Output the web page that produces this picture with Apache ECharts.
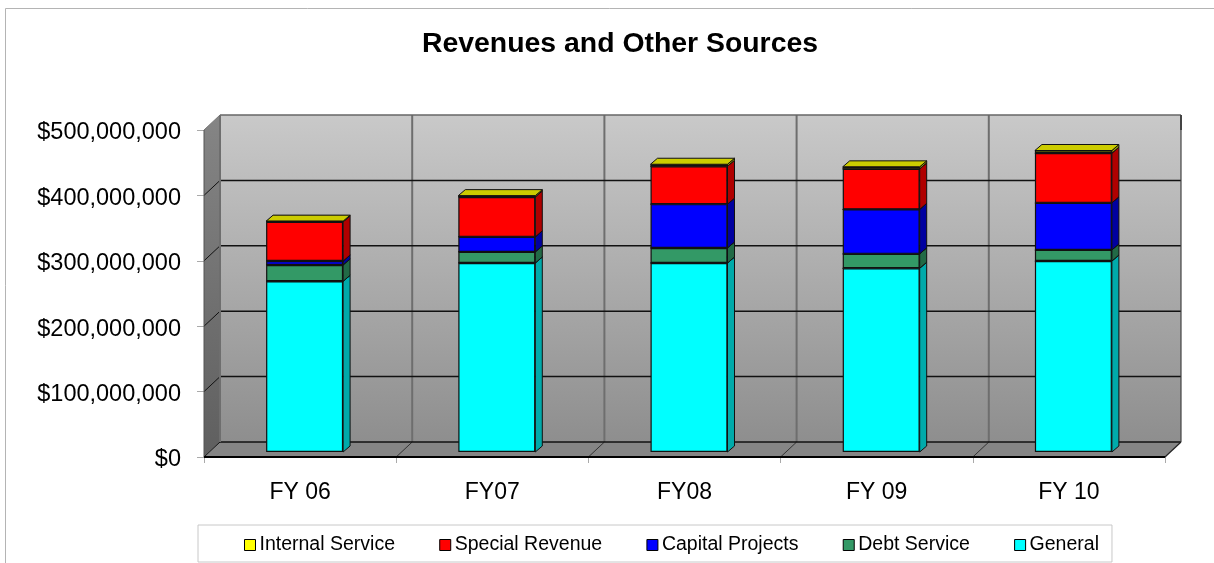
<!DOCTYPE html>
<html><head><meta charset="utf-8">
<style>html,body{margin:0;padding:0;background:#fff}#c{width:1214px;height:563px}</style>
<script src="https://cdn.jsdelivr.net/npm/echarts@6/dist/echarts.min.js"></script>
</head><body><div id="c"></div>
<script>
const categories = ['FY 06','FY07','FY08','FY 09','FY 10'];
const general  = [261, 289, 289, 281, 292];
const debt     = [25, 17, 23, 22, 17];
const capital  = [6, 23, 67, 68, 72];
const special  = [60, 61, 58, 62, 76];
const internal = [1, 2, 3, 3, 4];
const yTicks = [0,100,200,300,400,500];
const M = 1000000;

const seriesDefs = [
  {name:'General', values:general, front:'#00ffff', side:'#00aaaa', top:'#00cccc'},
  {name:'Debt Service', values:debt, front:'#339966', side:'#226a46', top:'#2a8055'},
  {name:'Capital Projects', values:capital, front:'#0000ff', side:'#0000a0', top:'#0000cc'},
  {name:'Special Revenue', values:special, front:'#ff0000', side:'#b00000', top:'#cc0000'},
  {name:'Internal Service', values:internal, front:'#ffff00', side:'#a8a800', top:'#cccc00'}
];
const legendOrder = ['Internal Service','Special Revenue','Capital Projects','Debt Service','General'];

const DX=16, DY=-15;      // wall depth
const BX=4.5, BY=-5;      // bar inset from the front plane
const SX=7, SY=-6;        // bar depth
const BAR=77;
const FONT='"Liberation Sans", Arial, sans-serif';
const L=204, R=1214-1165, T=130, B=563-457;

function poly(pts, fill, stroke, lw){
  return {type:'polygon', shape:{points:pts}, style:{fill:fill, stroke:stroke||null, lineWidth:lw||0}};
}
function line(x1,y1,x2,y2,c,w){
  return {type:'line', shape:{x1,y1,x2,y2}, style:{stroke:c, lineWidth:w, fill:null}};
}
function grad(a,b){
  return {type:'linear',x:0,y:0,x2:0,y2:1,colorStops:[{offset:0,color:a},{offset:1,color:b}]};
}

function renderRoom(params, api){
  const c=params.coordSys, x0=c.x, x1=c.x+c.width, y0=c.y, y1=c.y+c.height;
  const band=c.width/categories.length;
  const ch=[];
  ch.push(poly([[x0+DX,y0+DY],[x1+DX,y0+DY],[x1+DX,y1+DY],[x0+DX,y1+DY]],grad('#c9c9c9','#8e8e8e')));
  ch.push(poly([[x0,y0],[x0+DX,y0+DY],[x0+DX,y1+DY],[x0,y1]],grad('#858585','#5f5f5f')));
  ch.push(poly([[x0,y1],[x0+DX,y1+DY],[x1+DX,y1+DY],[x1,y1]],'#858585'));
  for(let i=1;i<categories.length;i++){
    const x=x0+band*i;
    ch.push(line(x+DX,y0+DY,x+DX,y1+DY,'#6e6e6e',2));
    ch.push(line(x,y1,x+DX,y1+DY,'#333333',1));
  }
  yTicks.forEach(v=>{
    const y=api.coord([0,v*M])[1];
    if(v===500){
      ch.push(line(x0+DX,y+DY,x1+DX,y+DY,'#666666',1.5));
      ch.push(line(x0,y,x0+DX,y+DY,'#777777',1));
    } else {
      ch.push(line(x0+DX,y+DY,x1+DX,y+DY,'#111111',1.5));
      ch.push(line(x0,y,x0+DX,y+DY,'#111111',1));
    }
  });
  ch.push(line(x0+DX,y0+DY,x0+DX,y1+DY,'#6e6e6e',2));
  ch.push(line(x1+DX,y0+DY,x1+DX,y1+DY,'#444444',1.2));
  ch.push(line(x1+DX,y0+DY,x1+DX,y0,'#444444',2));
  ch.push(line(x1,y1,x1+DX,y1+DY,'#222222',1.2));
  ch.push(line(x0,y0,x0,y1,'#555555',1));
  ch.push(line(x0,y1,x1,y1,'#000000',2));
  return {type:'group',children:ch};
}

function makeFaces(def, idx){
  const data=categories.map((_,i)=>{
    let base=0;
    for(let k=0;k<idx;k++) base+=seriesDefs[k].values[i];
    return [i, base*M, (base+def.values[i])*M];
  });
  return {
    type:'custom', name:'faces-'+def.name, xAxisIndex:1, yAxisIndex:1, z:3, silent:true,
    clip:false, data:data, tooltip:{show:false},
    renderItem(params, api){
      const i=api.value(0);
      const a=api.coord([i,api.value(1)]), b=api.coord([i,api.value(2)]);
      const xr=a[0]+BAR/2, xl=a[0]-BAR/2;
      const e='#111111';
      return {type:'group',children:[
        poly([[xr,a[1]],[xr+SX,a[1]+SY],[xr+SX,b[1]+SY],[xr,b[1]]],def.side,e,1),
        poly([[xl,b[1]],[xl+SX,b[1]+SY],[xr+SX,b[1]+SY],[xr,b[1]]],def.top,e,1)
      ]};
    }
  };
}

const bars=seriesDefs.map(d=>({
  type:'bar', name:d.name, stack:'total', xAxisIndex:1, yAxisIndex:1, z:4,
  barWidth:BAR, data:d.values.map(v=>v*M),
  itemStyle:{color:d.front, borderColor:'#111111', borderWidth:1.2},
  emphasis:{disabled:true}
}));

const chart=echarts.init(document.getElementById('c'),null,{renderer:'canvas'});
chart.setOption({
  animation:false,
  backgroundColor:'#ffffff',
  title:{text:'Revenues and Other Sources',top:25,
    left:417,
    textStyle:{fontFamily:FONT,fontSize:28.4,fontWeight:'bold',color:'#000'}},
  graphic:[{type:'polyline',silent:true,z:-1,
    shape:{points:[[5.5,563],[5.5,8.5],[1214,8.5]]},
    style:{stroke:'#b4b4b4',lineWidth:1,fill:null}}],
  legend:{
    data:legendOrder, left:198, top:525, orient:'horizontal',
    padding:[10,13,7,46], itemGap:44.25, itemWidth:11, itemHeight:11,
    icon:'rect',
    itemStyle:{borderColor:'#000',borderWidth:1},
    textStyle:{fontFamily:FONT,fontSize:19.5,color:'#000',padding:[0,0,0,-1]},
    backgroundColor:'#fff',borderColor:'#c8c8c8',borderWidth:1,
    selectedMode:false
  },
  grid:[
    {left:L,right:R,top:T,bottom:B},
    {left:L+BX,right:R-BX,top:T+BY,bottom:B-BY}
  ],
  xAxis:[
    {type:'category',data:categories,gridIndex:0,
     axisLine:{show:false},
     axisTick:{show:true,length:6,alignWithLabel:false,lineStyle:{color:'#aaaaaa'}},
     axisLabel:{fontFamily:FONT,fontSize:23,color:'#000',margin:24}},
    {type:'category',data:categories,gridIndex:1,show:false}
  ],
  yAxis:[
    {type:'value',gridIndex:0,min:0,max:500*M,interval:100*M,
     axisLine:{show:false},splitLine:{show:false},
     axisTick:{show:true,length:7,lineStyle:{color:'#aaaaaa'}},
     axisLabel:{fontFamily:FONT,fontSize:23.5,color:'#000',margin:23,verticalAlign:'top',lineHeight:6,
       formatter:v=>'$'+v.toLocaleString('en-US')}},
    {type:'value',gridIndex:1,min:0,max:500*M,show:false,splitLine:{show:false}}
  ],
  series:[
    {type:'custom',name:'room',xAxisIndex:0,yAxisIndex:0,z:1,silent:true,clip:false,
     data:[[0,0]],renderItem:renderRoom,tooltip:{show:false}},
    ...seriesDefs.map(makeFaces),
    ...bars
  ]
});
</script></body></html>
